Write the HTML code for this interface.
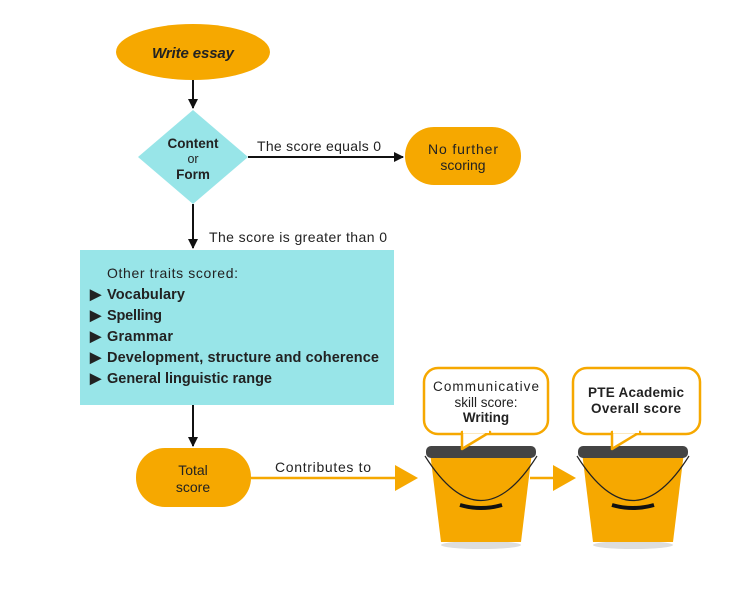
<!DOCTYPE html>
<html><head><style>
body{margin:0;background:#fff;}
svg text{font-family:"Liberation Sans",sans-serif;}
</style></head><body>
<svg width="749" height="603" viewBox="0 0 749 603" xmlns="http://www.w3.org/2000/svg">
<defs>
<marker id="a" markerWidth="10" markerHeight="10" refX="9" refY="5" orient="auto" markerUnits="userSpaceOnUse"><path d="M0,0 L10,5 L0,10z" fill="#111"/></marker>
</defs>
<ellipse cx="193" cy="52" rx="77" ry="28" fill="#F6A800"/>
<text x="193" y="58" text-anchor="middle" font-size="15" font-weight="bold" font-style="italic" fill="#222" textLength="82">Write essay</text>
<line x1="193" y1="80" x2="193" y2="108" stroke="#111" stroke-width="2" marker-end="url(#a)"/>
<polygon points="193,110 248,157 193,204 138,157" fill="#98E5E8"/>
<text x="193" y="148" text-anchor="middle" font-size="13.5" font-weight="bold" fill="#222">Content</text>
<text x="193" y="163" text-anchor="middle" font-size="12.5" fill="#222">or</text>
<text x="193" y="179" text-anchor="middle" font-size="13.5" font-weight="bold" fill="#222">Form</text>
<line x1="248" y1="157" x2="403" y2="157" stroke="#111" stroke-width="2" marker-end="url(#a)"/>
<text x="257" y="151" font-size="14" fill="#222" textLength="124">The score equals 0</text>
<rect x="405" y="127" width="116" height="58" rx="29" fill="#F6A800"/>
<text x="463" y="154" text-anchor="middle" font-size="14" fill="#222" textLength="70">No further</text>
<text x="463" y="170" text-anchor="middle" font-size="14" fill="#222">scoring</text>
<line x1="193" y1="204" x2="193" y2="248" stroke="#111" stroke-width="2" marker-end="url(#a)"/>
<text x="209" y="242" font-size="14" fill="#222" textLength="178">The score is greater than 0</text>
<rect x="80" y="250" width="314" height="155" fill="#98E5E8"/>
<text x="107" y="278" font-size="14" fill="#222" textLength="131">Other traits scored:</text>
<g font-size="14.5" font-weight="bold" fill="#222">
<text x="90" y="299">▶</text><text x="107" y="299" textLength="78">Vocabulary</text>
<text x="90" y="320">▶</text><text x="107" y="320" textLength="55">Spelling</text>
<text x="90" y="341">▶</text><text x="107" y="341" textLength="66">Grammar</text>
<text x="90" y="362">▶</text><text x="107" y="362" textLength="272">Development, structure and coherence</text>
<text x="90" y="383">▶</text><text x="107" y="383" textLength="165">General linguistic range</text>
</g>
<line x1="193" y1="405" x2="193" y2="446" stroke="#111" stroke-width="2" marker-end="url(#a)"/>
<rect x="136" y="448" width="115" height="59" rx="29" fill="#F6A800"/>
<text x="193" y="475" text-anchor="middle" font-size="14" fill="#222">Total</text>
<text x="193" y="492" text-anchor="middle" font-size="14" fill="#222">score</text>
<line x1="251" y1="478" x2="398" y2="478" stroke="#F6A800" stroke-width="2.5"/>
<polygon points="395,465 418,478 395,491" fill="#F6A800"/>
<text x="275" y="472" font-size="14" fill="#222" textLength="96">Contributes to</text>
<line x1="530" y1="478" x2="555" y2="478" stroke="#F6A800" stroke-width="2.5"/>
<polygon points="553,465 576,478 553,491" fill="#F6A800"/>
<g>
<ellipse cx="481" cy="545" rx="40" ry="4" fill="#ddd"/>
<polygon points="430,452 532,452 521,542 441,542" fill="#F6A800"/>
<rect x="426" y="446" width="110" height="12" rx="5" fill="#444"/>
<path d="M425,456 Q481,545 537,456" fill="none" stroke="#222" stroke-width="1.2"/>
<path d="M460,505 Q481,511 502,505" fill="none" stroke="#111" stroke-width="4"/>
<rect x="424" y="368" width="124" height="66" rx="14" fill="#fff" stroke="#F6A800" stroke-width="2.5"/>
<polygon points="462,432 462,449 490,432" fill="#fff" stroke="#F6A800" stroke-width="2.5" stroke-linejoin="round"/>
<rect x="463" y="428" width="26" height="5" fill="#fff"/>
<text x="486" y="391" text-anchor="middle" font-size="13.5" fill="#222" textLength="106">Communicative</text>
<text x="486" y="407" text-anchor="middle" font-size="13.5" fill="#222">skill score:</text>
<text x="486" y="422" text-anchor="middle" font-size="13.5" font-weight="bold" fill="#222">Writing</text>
</g>
<g>
<ellipse cx="633" cy="545" rx="40" ry="4" fill="#ddd"/>
<polygon points="582,452 684,452 673,542 593,542" fill="#F6A800"/>
<rect x="578" y="446" width="110" height="12" rx="5" fill="#444"/>
<path d="M577,456 Q633,545 689,456" fill="none" stroke="#222" stroke-width="1.2"/>
<path d="M612,505 Q633,511 654,505" fill="none" stroke="#111" stroke-width="4"/>
<rect x="573" y="368" width="127" height="66" rx="14" fill="#fff" stroke="#F6A800" stroke-width="2.5"/>
<polygon points="612,432 612,449 640,432" fill="#fff" stroke="#F6A800" stroke-width="2.5" stroke-linejoin="round"/>
<rect x="613" y="428" width="26" height="5" fill="#fff"/>
<text x="636" y="397" text-anchor="middle" font-size="13.5" font-weight="bold" fill="#222" textLength="96">PTE Academic</text>
<text x="636" y="413" text-anchor="middle" font-size="13.5" font-weight="bold" fill="#222" textLength="90">Overall score</text>
</g>
</svg>
</body></html>
